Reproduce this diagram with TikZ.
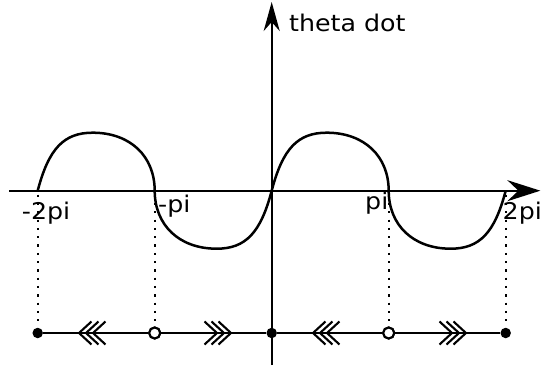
\documentclass[tikz,border=0pt]{standalone}
\usepackage{fontspec}
\setmainfont{DejaVu Sans}[FakeStretch=1.1]
\usetikzlibrary{arrows.meta}
\begin{document}
\begin{tikzpicture}[x=1pt,y=1pt,
  axis/.style={line width=2.3pt},
  curve/.style={line width=2.5pt},
  guide/.style={line width=2.2pt,dash pattern=on 2.2pt off 6.1pt},
  fixedpt/.style={circle,fill=black,inner sep=0pt,minimum size=10.5pt},
  openpt/.style={circle,draw=black,fill=white,line width=2.1pt,inner sep=0pt,minimum size=11pt},
  chev/.style={line width=2.1pt},
  lbl/.style={inner sep=0pt,anchor=base west,font=\fontsize{23}{27}\selectfont}]
\useasboundingbox (-271.7,-176.3) rectangle (270.3,190.7);
% axes
\coordinate (xl) at (-262.4,0);
\coordinate (xr) at (268.7,0);
\coordinate (yb) at (0,-174.3);
\coordinate (yt) at (0,188.7);
\draw[axis,-{Stealth[length=33pt,width=21pt,inset=11pt]}] (xl) -- (xr);
\draw[axis,-{Stealth[length=29pt,width=16pt,inset=9pt]}] (yb) -- (yt);
% zeros on axis
\coordinate (z1) at (-234,0);
\coordinate (z2) at (-117,0);
\coordinate (z3) at (0,0);
\coordinate (z4) at (117,0);
\coordinate (z5) at (234,0);
% curve
\draw[curve] (z1) .. controls (-223,42) and (-208,58) .. (-179,58)
  .. controls (-141,58) and (-117,34) .. (z2)
  .. controls (-117,-34) and (-93,-58) .. (-55,-58)
  .. controls (-26,-58) and (-11,-42) .. (z3)
  .. controls (11,42) and (26,58) .. (55,58)
  .. controls (93,58) and (117,34) .. (z4)
  .. controls (117,-34) and (141,-58) .. (179,-58)
  .. controls (208,-58) and (223,-42) .. (z5);
% phase line points
\node[fixedpt] (p1) at (-234,-142.3) {};
\node[openpt]  (p2) at (-117,-142.3) {};
\node[fixedpt] (p3) at (0,-142.3) {};
\node[openpt]  (p4) at (117,-142.3) {};
\node[fixedpt] (p5) at (234,-142.3) {};
% guides
\foreach \i in {1,2,4,5} {\draw[guide] ([yshift=-4pt]z\i) -- ([yshift=7pt]p\i.center);}
% phase line
\draw[axis] (p1) -- (p2) -- (p3) -- (p4) -- (p5);
\node[openpt] at (p2) {};
\node[openpt] at (p4) {};
% chevrons
\foreach \t in {-192.7,-185.7,-178.7,41.3,48.3,55.3}
  {\draw[chev] (\t+12.5,-142.3+11.5) -- (\t,-142.3) -- (\t+12.5,-142.3-11.5);}
\foreach \t in {-54.7,-47.7,-40.7,180.3,187.3,194.3}
  {\draw[chev] (\t-12.5,-142.3+11.5) -- (\t,-142.3) -- (\t-12.5,-142.3-11.5);}
% labels
\node[lbl] (ty) at (17.3,158.7) {theta dot};
\node[lbl] (l1) at (-250,-28.8) {-2pi};
\node[lbl] (l2) at (-113.7,-22) {-pi};
\node[lbl] (l4) at (93.3,-19.3) {pi};
\node[lbl] (l5) at (230.8,-29.3) {2pi};
\end{tikzpicture}
\end{document}
